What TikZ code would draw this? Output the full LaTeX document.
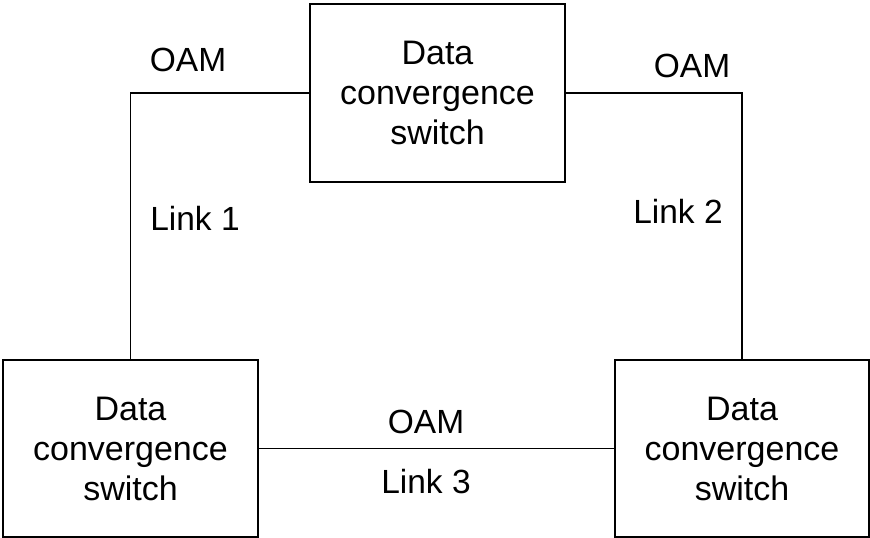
\documentclass[tikz,border=0pt]{standalone}
\usepackage{fontspec}
\setmainfont{Liberation Sans}
\tikzset{
	switchbox/.style={draw,line width=1.6pt,minimum width=255pt,minimum height=177pt,align=center,inner sep=0pt,font=\fontsize{34}{40}\selectfont},
	lbl/.style={anchor=base,inner sep=0pt,font=\fontsize{33.5}{40}\selectfont},
	wire/.style={line width=1.6pt}
}
\begin{document}
\begin{tikzpicture}[x=1pt,y=-1pt]
		\useasboundingbox (0,0) rectangle (870,538);
		\node[switchbox,minimum height=178pt] (top) at (437.5,93) {Data\\convergence\\switch};
		\node[switchbox] (left) at (130.5,448.5) {Data\\convergence\\switch};
		\node[switchbox,minimum width=254pt] (right) at (742,448.5) {Data\\convergence\\switch};
		\draw[wire] (top.west)-|(left.north);
		\draw[wire] (top.east)-|(right.north);
		\draw[wire] (left.east)--(right.west);
		\node[lbl] (oam1) at (188,71) {OAM};
		\node[lbl] (link1) at (195,230) {Link 1};
		\node[lbl] (oam2) at (692,77) {OAM};
		\node[lbl] (link2) at (678,223) {Link 2};
		\node[lbl] (oam3) at (426,433) {OAM};
		\node[lbl] (link3) at (426,493) {Link 3};
		\end{tikzpicture}
\end{document}
